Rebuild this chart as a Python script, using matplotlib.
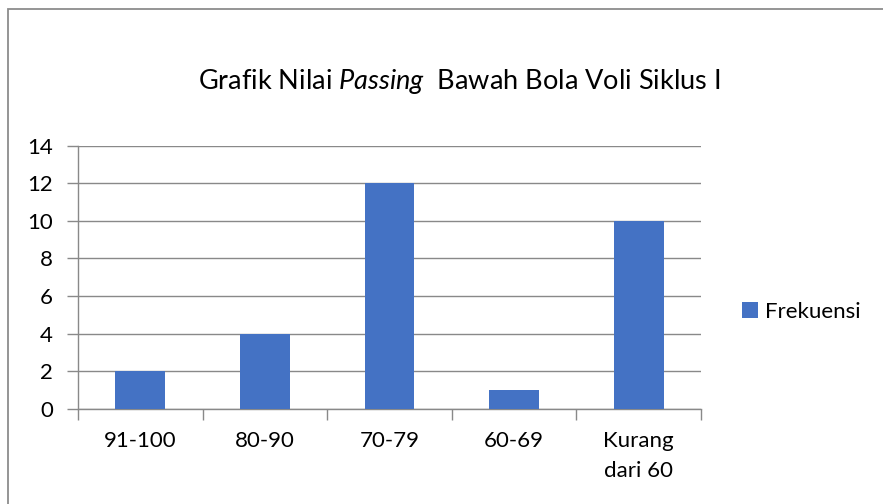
import matplotlib
matplotlib.use("Agg")
import matplotlib.pyplot as plt
import matplotlib.patches as patches
from matplotlib.ticker import FixedLocator, NullFormatter

plt.rcParams['font.family'] = ['Lato', 'DejaVu Sans']
plt.rcParams['mathtext.fontset'] = 'custom'
plt.rcParams['mathtext.it'] = 'Lato:italic'
plt.rcParams['mathtext.rm'] = 'Lato'

# data
categories = ["91-100", "80-90", "70-79", "60-69", "Kurang\ndari 60"]
frekuensi = [2, 4, 12, 1, 10]
y_ticks = [0, 2, 4, 6, 8, 10, 12, 14]

BAR_COLOUR = '#4472C4'
AXIS_COLOUR = '#898989'
W, H = 883, 504
TICK_FS = 16

fig = plt.figure(figsize=(W / 100, H / 100), dpi=100)

# outer chart border (excel style, cut at right/bottom)
border = patches.Rectangle((8 / W, -0.05), 1.1, 1.05 - 9 / H, transform=fig.transFigure,
                           fill=False, edgecolor='#8c8c8c', linewidth=1.3)
fig.patches.append(border)

ax = fig.add_axes([78 / W, 1 - 408.7 / H, 623 / W, 263 / H])
xs = list(range(len(categories)))
ax.bar(xs, frekuensi, width=0.4, color=BAR_COLOUR, zorder=3, label="Frekuensi")

ax.set_xlim(-0.5, len(categories) - 0.5)
ax.set_ylim(0, 14)
ax.set_yticks(y_ticks)
ax.grid(axis='y', color=AXIS_COLOUR, linewidth=1.0, zorder=0)

# category boundaries as major ticks, labels on minor ticks at bar centres
ax.xaxis.set_major_locator(FixedLocator([x - 0.5 for x in range(len(categories) + 1)]))
ax.xaxis.set_major_formatter(NullFormatter())
ax.xaxis.set_minor_locator(FixedLocator(xs))
ax.set_xticklabels(categories, minor=True, fontsize=TICK_FS, va='top', linespacing=1.6)
ax.tick_params(axis='x', which='major', length=8, color=AXIS_COLOUR, width=1.0)
ax.tick_params(axis='x', which='minor', length=0, pad=16)
ax.tick_params(axis='y', length=8, color=AXIS_COLOUR, width=1.0, labelsize=TICK_FS, pad=10)

for s in ['top', 'right']:
    ax.spines[s].set_visible(False)
for s in ['left', 'bottom']:
    ax.spines[s].set_color(AXIS_COLOUR)
    ax.spines[s].set_linewidth(1.0)

fig.text(459 / W, 1 - 82 / H, r"Grafik Nilai $\mathit{Passing}$  Bawah Bola Voli Siklus I",
         ha='center', va='center', fontsize=19.5)

ax.legend(loc='center left', bbox_to_anchor=((742 - 78) / 623, (408.7 - 312) / 263), frameon=False,
          fontsize=TICK_FS, handlelength=0.7, handleheight=0.7, handletextpad=0.35, borderpad=0,
          borderaxespad=0)

fig.savefig('out.png', dpi=100)
